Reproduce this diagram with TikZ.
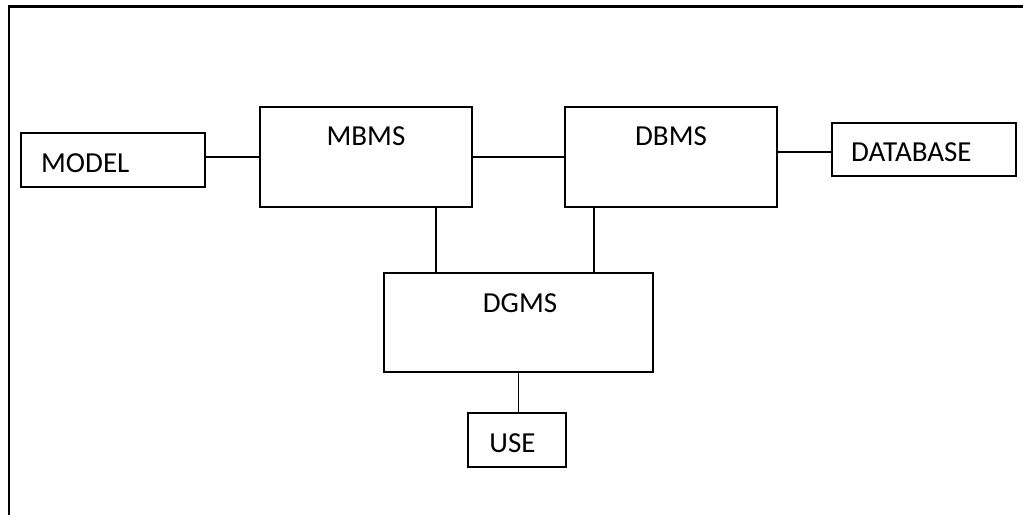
\documentclass[tikz,border=0pt]{standalone}
\usepackage{fontspec}
\setmainfont{Carlito}
\tikzset{
  blk/.style={draw, line width=1.7pt, inner sep=0pt},
  lbl/.style={anchor=base, inner sep=0pt, font=\fontsize{29}{34}\selectfont},
  wire/.style={line width=1.4pt},
}
\begin{document}
\begin{tikzpicture}[x=1pt,y=1pt]
\useasboundingbox (0,0) rectangle (1023,515);
\draw[line width=2.6pt] (9,0) -- (9,508.5) -- (1023,508.5); %frame
\node[blk, minimum width=184, minimum height=54] (model) at (113,355) {};
\node[blk, minimum width=212, minimum height=100] (mbms) at (366,358) {};
\node[blk, minimum width=212, minimum height=100] (dbms) at (671,358) {};
\node[blk, minimum width=184, minimum height=53] (database) at (924,365.5) {};
\node[blk, minimum width=269, minimum height=99] (dgms) at (518.5,192.5) {};
\node[blk, minimum width=98, minimum height=54] (use) at (517,75) {};
\node[lbl, anchor=base west] (modeltxt) at (41,342) {MODEL};
\node[lbl] (mbmstxt) at (366,369) {MBMS};
\node[lbl] (dbmstxt) at (671,369) {DBMS};
\node[lbl, anchor=base west] (databasetxt) at (851,353) {DATABASE};
\node[lbl] (dgmstxt) at (520,203) {DGMS};
\node[lbl] (usetxt) at (512.5,63) {USE};
\draw[wire] (mbms.west) -- (mbms.west -| model.east);
\draw[wire] (mbms.east) -- (dbms.west);
\draw[wire] ([yshift=-2.5]database.west) -- ([yshift=-2.5]database.west -| dbms.east);
\draw[wire] ([xshift=70]mbms.south) -- ([xshift=70]mbms.south |- dgms.north); %mbms-dgms
\draw[wire] ([xshift=-77]dbms.south) -- ([xshift=-77]dbms.south |- dgms.north); %dbms-dgms
\draw[wire] (dgms.south) -- (dgms.south |- use.north);
\end{tikzpicture}
\end{document}
